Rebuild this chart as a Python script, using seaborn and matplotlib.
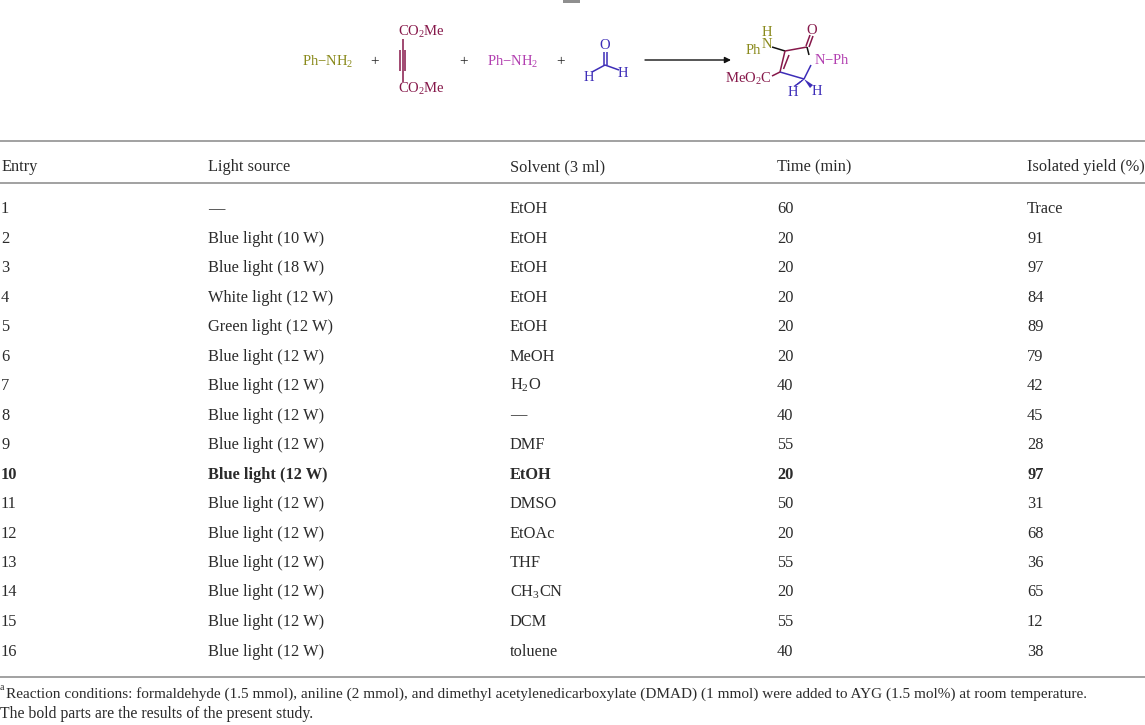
import numpy as np
import pandas as pd
import matplotlib
matplotlib.use("Agg")
import matplotlib.pyplot as plt
import seaborn as sns

# ---------------- data ----------------
headers = ["Entry", "Light source", "Solvent (3 ml)", "Time (min)", "Isolated yield (%)"]
entries = [str(i) for i in range(1, 17)]
light_sources = ["—", "Blue light (10 W)", "Blue light (18 W)", "White light (12 W)",
                 "Green light (12 W)", "Blue light (12 W)", "Blue light (12 W)",
                 "Blue light (12 W)", "Blue light (12 W)", "Blue light (12 W)",
                 "Blue light (12 W)", "Blue light (12 W)", "Blue light (12 W)",
                 "Blue light (12 W)", "Blue light (12 W)", "Blue light (12 W)"]
solvents = ["EtOH", "EtOH", "EtOH", "EtOH", "EtOH", "MeOH", r"H$\mathregular{_2}$O", "—",
            "DMF", "EtOH", "DMSO", "EtOAc", "THF", r"CH$\mathregular{_3}$CN", "DCM", "toluene"]
times = [60, 20, 20, 20, 20, 20, 40, 40, 55, 20, 50, 20, 55, 20, 55, 40]
yields = ["Trace", "91", "97", "84", "89", "79", "42", "45", "28", "97",
          "31", "68", "36", "65", "12", "38"]
bold_entries = ["10"]
footnote_1 = ("Reaction conditions: formaldehyde (1.5 mmol), aniline (2 mmol), and dimethyl "
              "acetylenedicarboxylate (DMAD) (1 mmol) were added to AYG (1.5 mol%) at room temperature.")
footnote_2 = "The bold parts are the results of the present study."

df = pd.DataFrame({"Entry": entries, "Light": light_sources, "Solvent": solvents,
                   "Time": [str(t) for t in times], "Yield": yields})

# ---------------- style ----------------
sns.set_theme(style="white")
plt.rcParams["font.family"] = ["Liberation Serif", "DejaVu Serif"]
plt.rcParams["mathtext.fontset"] = "custom"
plt.rcParams["mathtext.rm"] = "Liberation Serif"

W, H = 1145, 725
fig = plt.figure(figsize=(W / 100, H / 100), dpi=100)
ax = fig.add_axes([0, 0, 1, 1])
ax.set_xlim(0, W)
ax.set_ylim(H, 0)
ax.axis("off")
sns.despine(ax=ax, left=True, bottom=True)

TXT = "#2b2b2b"
RULE = "#9a9a9a"
FS = 11.8
BL = 4.5  # offset from visual centre to baseline

# ---------------- table ----------------
col_x = [1, 208, 510, 777, 1027]
header_y = 166.5
row_y0, row_dy = 208.5, 29.5

for x, h in zip(col_x, headers):
    ax.text(x, header_y + BL, h, fontsize=FS, color=TXT, va="baseline", ha="left")

for i, row in df.iterrows():
    y = row_y0 + i * row_dy
    weight = "bold" if row["Entry"] in bold_entries else "normal"
    for x, key in zip(col_x, ["Entry", "Light", "Solvent", "Time", "Yield"]):
        ax.text(x, y + BL, row[key], fontsize=FS, color=TXT, va="baseline", ha="left",
                fontweight=weight)

for yl in [141, 183, 677]:
    ax.plot([0, W], [yl, yl], color=RULE, lw=1.3, solid_capstyle="butt")

# footnotes
ax.text(0, 690, "a", fontsize=7, color=TXT, va="baseline", ha="left")
ax.text(6, 693 + 4.5, footnote_1, fontsize=11.0, color=TXT, va="baseline", ha="left")
ax.text(0, 713 + 4.5, footnote_2, fontsize=11.3, color=TXT, va="baseline", ha="left")

# ---------------- reaction scheme ----------------
OLIVE = "#8a8a1c"
MAROON = "#86184a"
MAG = "#b23fb0"
BLUE = "#3d2db8"
SFS = 10.5

def t(x, y, s, c, ha="center", fs=SFS):
    ax.text(x, y, s, color=c, fontsize=fs, ha=ha, va="center")

def ln(x0, y0, x1, y1, c, lw=1.1):
    ax.plot([x0, x1], [y0, y1], color=c, lw=lw, solid_capstyle="butt")

# small grey mark at the top
ax.add_patch(plt.Rectangle((563, 0), 17, 3, color="#8f8f8f", lw=0))

# aniline 1
t(302, 62, r"Ph$\mathregular{-}$NH$\mathregular{_2}$", OLIVE, ha="left")
t(375, 62, "+", "#222222", fs=11)
# DMAD
t(398, 32, r"CO$\mathregular{_2}$Me", MAROON, ha="left")
t(398, 89, r"CO$\mathregular{_2}$Me", MAROON, ha="left")
ln(402.5, 39, 402.5, 82, MAROON)
ln(400, 50, 400, 71, MAROON)
ln(405, 50, 405, 71, MAROON)
t(464, 62, "+", "#222222", fs=11)
# aniline 2
t(487, 62, r"Ph$\mathregular{-}$NH$\mathregular{_2}$", MAG, ha="left")
t(561, 62, "+", "#222222", fs=11)
# formaldehyde
t(605, 45, "O", BLUE)
ln(603.5, 52, 603.5, 65, BLUE)
ln(607, 52, 607, 65, BLUE)
ln(605, 65, 592, 72, BLUE)
ln(605, 65, 619, 70, BLUE)
t(589, 77, "H", BLUE)
t(623, 73, "H", BLUE)

# arrow
ax.annotate("", xy=(731, 60), xytext=(645, 60),
            arrowprops=dict(arrowstyle="-|>", color="#111111", lw=1.0,
                            mutation_scale=9, shrinkA=0, shrinkB=0))

# product
C4 = (785, 51); C5 = (807, 47); N1 = (812, 60); C2 = (804, 79); C3 = (780, 72)
t(767, 32, "H", OLIVE)
t(767, 44, "N", OLIVE)
t(753, 50, "Ph", OLIVE)
ln(772, 47, C4[0], C4[1], "#111111")
ln(C4[0], C4[1], C5[0], C5[1], MAROON)
ln(C4[0], C4[1], C3[0], C3[1], MAROON)
ln(C4[0] + 4, C4[1] + 4, C3[0] + 3.5, C3[1] - 3, MAROON)
ln(806, 46, 810, 35, MAROON)
ln(809, 47, 813, 36, MAROON)
t(812, 30, "O", MAROON)
ln(C5[0], C5[1], 809, 55, "#111111")
t(814, 60, r"N$\mathregular{-}$Ph", MAG, ha="left")
ln(811, 65, C2[0], C2[1], BLUE)
ln(C2[0], C2[1], C3[0], C3[1], BLUE)
ln(C3[0], C3[1], 772, 76, MAROON)
t(772, 79, r"MeO$\mathregular{_2}$C", MAROON, ha="right")
# hashed bond to left H
for k in range(5):
    f = (k + 1) / 6
    px = C2[0] + (795 - C2[0]) * f
    py = C2[1] + (86 - C2[1]) * f
    dx, dy = 1.0 + 2.0 * f, -(1.0 + 2.0 * f) * 0.6
    ln(px - dx, py - dy, px + dx, py + dy, BLUE, lw=0.8)
# wedge to right H
ax.add_patch(plt.Polygon([(C2[0], C2[1]), (813, 85), (810, 88)], closed=True,
                         color=BLUE, lw=0))
t(793, 92, "H", BLUE)
t(817, 91, "H", BLUE)

fig.savefig("out.png", dpi=100)
